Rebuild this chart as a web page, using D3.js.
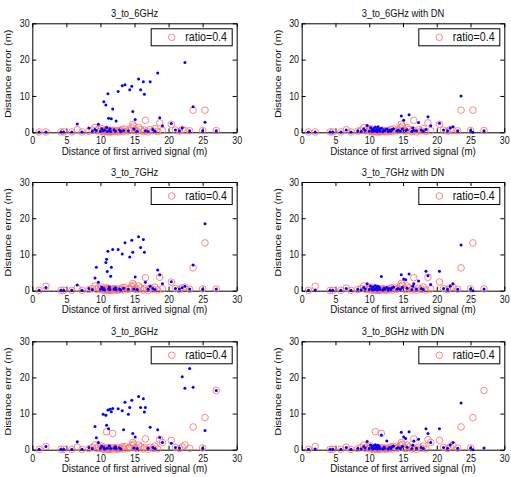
<!DOCTYPE html>
<html>
<head>
<meta charset="utf-8">
<script src="https://cdn.jsdelivr.net/npm/d3@7"></script>
<style>
  html, body { margin: 0; padding: 0; background: #fff; }
  svg { display: block; font-family: "Liberation Sans", Arial, Helvetica, sans-serif; }
</style>
</head>
<body>
<svg id="chart" width="511" height="477"></svg>
<script>
// Distance of first arrived signal (m), shared by every measurement series
const dist = [
  1.0, 2.0, 4.2, 4.6, 5.8, 6.6, 7.3, 8.3, 8.8, 9.2,
  9.4, 9.7, 10.0, 10.2, 10.4, 10.5, 10.6, 10.8, 10.9, 11.0,
  11.1, 11.2, 11.3, 11.4, 11.5, 11.6, 11.8, 12.0, 12.2, 12.3,
  12.6, 12.8, 13.0, 13.2, 13.4, 13.6, 14.1, 14.3, 14.6, 14.75,
  14.9, 15.1, 15.4, 15.6, 15.9, 16.3, 16.45, 16.6, 17.0, 17.3,
  17.7, 18.0, 18.4, 18.7, 19.1, 20.4, 21.0, 21.6, 22.0, 22.4,
  23.1, 23.6, 25.0, 25.35, 27.0
];

// Distance error (m) with ratio = 0.4, one series per band
const ratio6 = [
  0.1, 0.1, 0.1, 0.1, 0.1, 0.7, 0.1, 0.3, 0.6, 1.3,
  0.4, 0.8, 0.3, 1.0, 0.2, 0.5, 0.1, 0.4, 0.8, 0.2,
  0.6, 0.1, 0.3, 0.2, 0.5, 0.1, 0.3, 0.6, 0.2, 0.4,
  0.1, 0.5, 0.3, 0.8, 0.2, 0.9, 0.4, 0.6, 1.2, 2.2,
  1.7, 0.5, 0.3, 1.3, 0.8, 0.2, 0.6, 3.3, 0.1, 0.7,
  0.4, 1.0, 0.2, 2.6, 0.5, 2.2, 0.6, 0.3, 0.8, 0.5,
  0.4, 6.1, 0.5, 6.1, 0.5
];
const ratio7 = [
  0.1, 1.2, 0.1, 0.1, 0.1, 0.7, 0.1, 0.3, 0.6, 1.3,
  0.4, 0.8, 0.3, 1.0, 0.2, 0.5, 0.1, 0.4, 0.8, 0.2,
  0.6, 0.1, 0.3, 0.2, 0.5, 0.1, 0.3, 0.6, 0.2, 0.4,
  0.1, 0.5, 0.3, 0.8, 0.2, 0.9, 0.4, 0.6, 1.2, 2.0,
  1.5, 0.5, 0.3, 1.3, 0.8, 0.2, 0.6, 3.6, 0.1, 0.7,
  0.4, 1.0, 0.2, 3.7, 0.5, 2.4, 0.6, 0.3, 0.8, 1.0,
  0.4, 6.3, 0.5, 13.2, 0.5
];
const ratio8 = [
  0.1, 0.9, 0.1, 0.1, 0.1, 0.7, 0.1, 0.3, 0.6, 1.3,
  0.4, 0.8, 0.3, 1.0, 0.2, 0.5, 0.1, 0.4, 5.0, 0.2,
  0.6, 0.1, 0.3, 0.2, 0.5, 0.1, 4.5, 0.6, 0.2, 0.4,
  0.1, 0.5, 0.3, 0.8, 0.2, 0.9, 0.4, 0.6, 1.2, 2.0,
  1.5, 0.5, 0.3, 1.3, 0.8, 0.2, 0.6, 3.0, 0.1, 0.7,
  0.4, 1.0, 0.2, 2.8, 2.0, 2.6, 0.6, 0.3, 0.8, 1.3,
  0.4, 6.3, 0.5, 8.9, 16.4
];

// Distance error (m) of the plain and DN estimates
const err6 = [
  0.1, 0.1, 0.1, 0.1, 0.1, 2.3, 0.1, 1.2, 0.3, 0.8,
  0.5, 2.2, 0.3, 1.0, 0.4, 8.4, 0.6, 7.5, 1.3, 0.2,
  10.6, 3.9, 0.5, 1.0, 0.2, 3.7, 6.4, 0.7, 0.3, 3.1,
  11.2, 0.6, 0.2, 12.8, 0.5, 13.1, 0.4, 11.7, 12.7, 5.7,
  0.9, 3.5, 0.3, 14.7, 11.7, 13.9, 10.5, 0.4, 0.2, 13.9,
  0.8, 0.3, 16.3, 4.0, 1.8, 2.4, 0.6, 0.4, 1.2, 19.2,
  0.4, 7.0, 0.4, 2.8, 0.4
];
const err6DN = [
  0.1, 0.1, 0.1, 0.1, 0.1, 0.6, 0.1, 0.4, 0.2, 0.9,
  0.5, 1.9, 0.3, 1.3, 0.6, 0.2, 1.0, 0.4, 1.4, 0.3,
  0.8, 0.2, 1.5, 0.5, 0.9, 0.3, 1.1, 0.2, 0.7, 0.4,
  0.9, 0.2, 0.6, 0.3, 0.8, 1.0, 0.4, 0.6, 0.3, 4.5,
  0.9, 3.3, 0.5, 0.7, 4.8, 0.3, 1.2, 0.5, 0.4, 2.7,
  0.6, 0.3, 0.8, 4.3, 1.8, 2.5, 0.6, 0.4, 1.2, 1.5,
  0.4, 10.0, 0.5, 0.0, 0.4
];
const err7 = [
  0.1, 0.9, 0.1, 0.1, 0.1, 1.6, 0.1, 0.6, 0.3, 3.5,
  6.5, 2.3, 0.4, 1.0, 0.3, 0.6, 0.2, 7.8, 8.7, 5.3,
  10.9, 0.5, 1.0, 0.3, 4.0, 6.5, 11.4, 0.4, 0.8, 0.3,
  11.4, 0.5, 0.2, 10.1, 0.7, 13.2, 0.4, 9.3, 13.9, 10.6,
  0.5, 3.8, 0.3, 14.9, 11.9, 14.1, 10.6, 2.3, 0.4, 1.2,
  0.6, 0.3, 5.7, 4.4, 1.9, 2.5, 0.6, 0.5, 0.8, 1.2,
  0.5, 7.1, 0.4, 18.5, 0.5
];
const err7DN = [
  0.1, 0.2, 0.1, 0.1, 0.1, 0.6, 0.1, 0.4, 0.2, 0.9,
  0.5, 1.9, 0.3, 1.3, 0.6, 0.2, 1.0, 0.4, 1.4, 0.3,
  0.8, 0.2, 1.2, 0.5, 0.9, 0.3, 3.9, 0.2, 0.7, 0.4,
  0.9, 0.2, 0.6, 0.3, 0.8, 1.0, 0.4, 0.6, 0.3, 4.4,
  0.9, 3.2, 3.0, 0.7, 4.6, 0.3, 1.2, 1.9, 0.4, 2.7,
  0.6, 0.3, 5.4, 4.1, 1.7, 5.4, 0.6, 0.4, 1.2, 1.9,
  0.4, 12.6, 0.5, 0.0, 0.5
];
const err8 = [
  0.1, 0.9, 0.1, 0.1, 0.1, 2.2, 0.1, 0.6, 0.3, 6.4,
  3.3, 2.0, 0.4, 1.0, 9.8, 0.6, 0.2, 9.5, 6.8, 0.4,
  11.0, 5.8, 1.0, 11.2, 0.3, 10.5, 11.4, 0.4, 0.8, 0.3,
  11.3, 0.5, 0.2, 10.8, 5.5, 13.1, 9.8, 11.7, 13.7, 4.5,
  0.5, 3.5, 0.3, 14.7, 11.7, 14.1, 10.4, 11.7, 0.4, 6.2,
  0.6, 0.3, 5.5, 3.4, 2.0, 1.8, 0.6, 0.5, 20.2, 17.0,
  22.5, 17.3, 0.4, 5.3, 16.4
];
const err8DN = [
  0.1, 0.2, 0.1, 0.1, 0.1, 0.6, 0.1, 0.4, 0.2, 0.9,
  0.5, 2.3, 0.3, 1.3, 0.6, 0.2, 1.0, 0.4, 1.4, 0.3,
  0.8, 0.2, 1.2, 0.5, 0.9, 0.3, 4.1, 0.2, 0.7, 0.4,
  2.4, 0.2, 0.6, 0.3, 0.8, 1.0, 0.4, 0.6, 0.3, 4.8,
  0.9, 3.5, 3.1, 0.7, 5.0, 0.3, 1.2, 2.4, 0.4, 2.9,
  0.6, 0.3, 5.8, 4.5, 2.0, 5.8, 0.6, 0.4, 1.3, 2.0,
  0.4, 12.9, 0.5, 0.0, 0.5
];

const titles = [
  "3_to_6GHz", "3_to_6GHz with DN",
  "3_to_7GHz", "3_to_7GHz with DN",
  "3_to_8GHz", "3_to_8GHz with DN"
];
const ratioSeries = [ratio6, ratio6, ratio7, ratio7, ratio8, ratio8];
const errSeries = [err6, err6DN, err7, err7DN, err8, err8DN];
const legendLabel = "ratio=0.4";
const xLabel = "Distance of first arrived signal (m)";
const yLabel = "Distance error (m)";
const xTicks = [0, 5, 10, 15, 20, 25, 30];
const yTicks = [0, 10, 20, 30];

const svg = d3.select("#chart");
const SX = 0.89; // horizontal squeeze of the lettering
const RED = "#ff7070";

// left/right edges of the two columns, top/bottom of the three rows
const cols = [[32.3, 236.7], [301.7, 504.3]];
const rows = [[23.3, 132.3], [182, 290.7], [341.3, 449.7]];

function squeezedText(g, x, y, txt, size, anchor) {
  return g.append("text")
    .attr("transform", `translate(${x},${y}) scale(${SX},1)`)
    .attr("text-anchor", anchor)
    .attr("font-size", size)
    .attr("fill", "#111")
    .text(txt);
}

titles.forEach((title, i) => {
  const [x0, x1] = cols[i % 2];
  const [y0, y1] = rows[Math.floor(i / 2)];
  const x = d3.scaleLinear().domain([0, 30]).range([x0, x1]);
  const y = d3.scaleLinear().domain([0, 30]).range([y1, y0]);
  const g = svg.append("g");

  // axes: inward ticks on all four sides
  const styleAxis = sel => {
    sel.selectAll("path.domain").attr("stroke", "#000").attr("stroke-width", 1);
    sel.selectAll(".tick line").attr("stroke", "#000");
  };
  const bottom = g.append("g").attr("transform", `translate(0,${y1})`)
    .call(d3.axisBottom(x).tickValues(xTicks).tickSizeInner(-4).tickSizeOuter(0).tickPadding(5));
  const left = g.append("g").attr("transform", `translate(${x0},0)`)
    .call(d3.axisLeft(y).tickValues(yTicks).tickSizeInner(-4).tickSizeOuter(0).tickPadding(3));
  const top = g.append("g").attr("transform", `translate(0,${y0})`)
    .call(d3.axisTop(x).tickValues(xTicks).tickSizeInner(-4).tickSizeOuter(0).tickFormat(""));
  const right = g.append("g").attr("transform", `translate(${x1},0)`)
    .call(d3.axisRight(y).tickValues(yTicks).tickSizeInner(-4).tickSizeOuter(0).tickFormat(""));
  [bottom, left, top, right].forEach(styleAxis);
  [bottom, left].forEach(a => a.selectAll(".tick text")
    .attr("font-size", 10)
    .attr("font-family", "Liberation Sans, Arial, sans-serif")
    .attr("fill", "#111")
    .attr("transform", `scale(${SX},1)`));

  // markers
  const pts = dist.map((d, k) => ({ d, r: ratioSeries[i][k], e: errSeries[i][k] }));
  g.append("g").selectAll("circle").data(pts).join("circle")
    .attr("cx", p => x(p.d)).attr("cy", p => y(p.r)).attr("r", 3.3)
    .attr("fill", "none").attr("stroke", RED).attr("stroke-width", 0.85);
  g.append("g").selectAll("circle").data(pts).join("circle")
    .attr("cx", p => x(p.d)).attr("cy", p => y(p.e)).attr("r", 1.5)
    .attr("fill", "#0000ff");

  // title and axis labels
  squeezedText(g, (x0 + x1) / 2, y0 - 6.5, title, 10.5, "middle");
  squeezedText(g, (x0 + x1) / 2, y1 + 22.5, xLabel, 11, "middle");
  g.append("text")
    .attr("transform", `translate(${x0 - 21},${(y0 + y1) / 2 - 4}) rotate(-90) scale(1,${SX})`)
    .attr("text-anchor", "middle").attr("font-size", 11).attr("fill", "#111")
    .text(yLabel);

  // legend
  const lw = 81, lh = 17;
  const lx = x1 - 4.5 - lw, ly = y0 + 5.5;
  g.append("rect").attr("x", lx).attr("y", ly).attr("width", lw).attr("height", lh)
    .attr("fill", "#fff").attr("stroke", "#000").attr("stroke-width", 1);
  g.append("circle").attr("cx", lx + 20.5).attr("cy", ly + lh / 2).attr("r", 3.3)
    .attr("fill", "none").attr("stroke", RED).attr("stroke-width", 0.85);
  squeezedText(g, lx + 34, ly + 12.5, legendLabel, 12, "start");
});
</script>
</body>
</html>
